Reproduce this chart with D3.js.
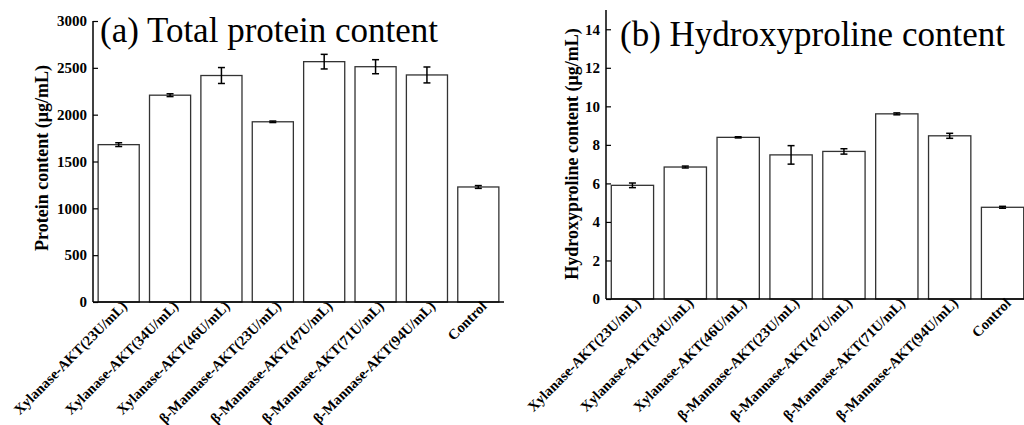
<!DOCTYPE html>
<html>
  <head>
    <meta charset="utf-8">
    <script type="text/javascript" src="https://d3js.org/d3.v7.min.js"></script>
    <title></title>
  </head>
  <style media="screen">
    body { margin: 0; background: #fff; }
    text { font-family: "Liberation Serif", "Times New Roman", serif; }
  </style>
  <body>

    <script type="text/javascript">

    var categories = ["Xylanase-AKT(23U/mL)", "Xylanase-AKT(34U/mL)", "Xylanase-AKT(46U/mL)",
      "\u03b2-Mannase-AKT(23U/mL)", "\u03b2-Mannase-AKT(47U/mL)", "\u03b2-Mannase-AKT(71U/mL)",
      "\u03b2-Mannase-AKT(94U/mL)", "Control"];

    var proteinMean = [1680, 2208, 2418, 1924, 2566, 2512, 2424, 1228];
    var proteinErr  = [20, 15, 85, 8, 78, 75, 85, 15];
    var proteinTicks = [0, 500, 1000, 1500, 2000, 2500, 3000];

    var hypMean = [5.90, 6.85, 8.39, 7.48, 7.66, 9.61, 8.47, 4.76];
    var hypErr  = [0.12, 0.05, 0.03, 0.48, 0.14, 0.05, 0.13, 0.05];
    var hypTicks = [0, 2, 4, 6, 8, 10, 12, 14];

    var svg = d3.select("body").append("svg")
        .attr("width", 1024)
        .attr("height", 425);

    function drawPanel(opt) {
      var x = d3.scaleBand()
        .domain(categories)
        .range([opt.left, opt.right])
        .paddingInner(0.2)
        .paddingOuter(0.1);

      var y = d3.scaleLinear()
        .domain(opt.domain)
        .range([opt.bottom, opt.top]);

      var g = svg.append("g");

      // bars
      g.selectAll("rect.bar")
        .data(opt.mean)
        .enter().append("rect")
          .attr("class", "bar")
          .attr("x", function(d, i) { return x(categories[i]); })
          .attr("width", x.bandwidth())
          .attr("y", function(d) { return y(d); })
          .attr("height", function(d) { return y(0) - y(d); })
          .attr("fill", "#fff")
          .attr("stroke", "#333")
          .attr("stroke-width", 1.3);

      // error bars
      var cx = function(i) { return x(categories[i]) + x.bandwidth() / 2; };
      var eb = g.selectAll("g.err")
        .data(opt.mean)
        .enter().append("g")
          .attr("class", "err")
          .attr("stroke", "#000")
          .attr("stroke-width", 1.5);
      eb.append("line")
        .attr("x1", function(d, i) { return cx(i); })
        .attr("x2", function(d, i) { return cx(i); })
        .attr("y1", function(d, i) { return y(d - opt.err[i]); })
        .attr("y2", function(d, i) { return y(d + opt.err[i]); });
      eb.append("line")
        .attr("x1", function(d, i) { return cx(i) - 3.5; })
        .attr("x2", function(d, i) { return cx(i) + 3.5; })
        .attr("y1", function(d, i) { return y(d + opt.err[i]); })
        .attr("y2", function(d, i) { return y(d + opt.err[i]); });
      eb.append("line")
        .attr("x1", function(d, i) { return cx(i) - 3.5; })
        .attr("x2", function(d, i) { return cx(i) + 3.5; })
        .attr("y1", function(d, i) { return y(d - opt.err[i]); })
        .attr("y2", function(d, i) { return y(d - opt.err[i]); });

      // y axis, ticks pointing inward
      var yAxis = d3.axisLeft(y)
        .tickValues(opt.ticks)
        .tickFormat(d3.format("d"))
        .tickSizeInner(-5)
        .tickSizeOuter(0)
        .tickPadding(6);
      var ya = g.append("g")
        .attr("transform", "translate(" + opt.left + ",0)")
        .call(yAxis);
      ya.select(".domain")
        .attr("stroke-width", 1.5)
        .attr("d", "M0," + opt.bottom + "V" + opt.axisTop);
      ya.selectAll(".tick line").attr("stroke-width", 1.2);
      ya.selectAll("text")
        .attr("font-family", "Liberation Serif, Times New Roman, serif")
        .attr("font-weight", "bold")
        .attr("font-size", 15)
        .attr("fill", "#000");

      // x axis line
      g.append("line")
        .attr("x1", opt.left)
        .attr("x2", opt.right)
        .attr("y1", opt.bottom)
        .attr("y2", opt.bottom)
        .attr("stroke", "#000")
        .attr("stroke-width", 1.5);

      // category labels
      g.selectAll("text.cat")
        .data(categories)
        .enter().append("text")
          .attr("class", "cat")
          .attr("transform", function(d) {
            return "translate(" + (x(d) + x.bandwidth() / 2 + 2) + "," + (opt.bottom - 2) + ") rotate(-45)";
          })
          .attr("text-anchor", "end")
          .attr("dy", "0.7em")
          .attr("font-weight", "bold")
          .attr("font-size", 14.5)
          .text(function(d) { return d; });

      // y label
      g.append("text")
        .attr("transform", "translate(" + opt.ylabelX + "," + opt.ylabelY + ") rotate(-90)")
        .attr("text-anchor", "middle")
        .attr("font-weight", "bold")
        .attr("font-size", 18)
        .text(opt.ylabel);

      // panel title
      g.append("text")
        .attr("x", opt.titleX)
        .attr("y", opt.titleY)
        .attr("font-size", 35)
        .text(opt.title);
    }

    drawPanel({
      mean: proteinMean, err: proteinErr, ticks: proteinTicks,
      domain: [0, 3000],
      left: 93, right: 504, top: 21, bottom: 302, axisTop: 21,
      ylabel: "Protein content (\u03bcg/mL)", ylabelX: 48, ylabelY: 158,
      title: "(a) Total protein content", titleX: 100, titleY: 42
    });

    drawPanel({
      mean: hypMean, err: hypErr, ticks: hypTicks,
      domain: [0, 15],
      left: 606, right: 1029, top: 10, bottom: 299, axisTop: 10,
      ylabel: "Hydroxyproline content (\u03bcg/mL)", ylabelX: 578, ylabelY: 154,
      title: "(b) Hydroxyproline content", titleX: 620, titleY: 46
    });

    </script>

  </body>
</html>
